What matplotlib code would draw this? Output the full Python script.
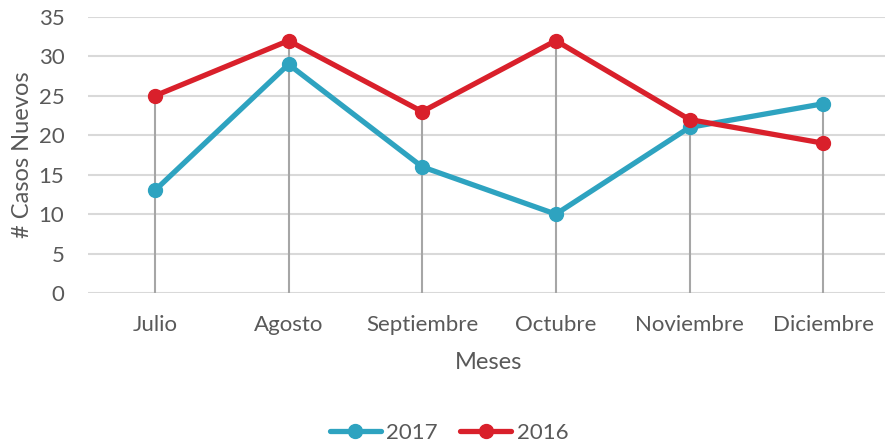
import matplotlib
matplotlib.use("Agg")
import matplotlib.pyplot as plt
import numpy as np

meses = ["Julio", "Agosto", "Septiembre", "Octubre", "Noviembre", "Diciembre"]
casos_2017 = [13, 29, 16, 10, 21, 24]
casos_2016 = [25, 32, 23, 32, 22, 19]
yticks = [0, 5, 10, 15, 20, 25, 30, 35]

plt.rcParams['font.family'] = ['Lato', 'DejaVu Sans']
txt = '#595959'

fig = plt.figure(figsize=(8.85, 4.44), dpi=100)
ax = fig.add_axes([88/885, 1-293/444, (890-88)/885, (293-17)/444])

x = np.arange(len(meses))
top = np.maximum(casos_2017, casos_2016)
ax.vlines(x, 0, top, color='#A6A6A6', lw=1.5, zorder=2)

c17 = '#2EA3C0'
c16 = '#D9202B'
ax.plot(x, casos_2017, color=c17, lw=3.8, marker='o', ms=10, label='2017', zorder=3, solid_capstyle='round')
ax.plot(x, casos_2016, color=c16, lw=3.8, marker='o', ms=10, label='2016', zorder=4, solid_capstyle='round')

ax.set_xlim(-0.5, 5.5)
ax.set_ylim(0, 35)
ax.set_yticks(yticks)
ax.set_xticks(x)
ax.set_xticklabels(meses)
ax.grid(axis='y', color='#D9D9D9', lw=1.5, zorder=0)
ax.set_axisbelow(True)
for s in ax.spines.values():
    s.set_visible(False)
ax.tick_params(length=0, labelsize=16, colors=txt, pad=17)
ax.tick_params(axis='x', pad=16)
ax.set_xlabel('Meses', fontsize=17, color=txt, labelpad=12)
ax.set_ylabel('# Casos Nuevos', fontsize=17, color=txt, labelpad=4)

leg = fig.legend(loc='center', bbox_to_anchor=(449/885, 1-433/444), ncol=2, frameon=False,
                 fontsize=16, labelcolor=txt, handlelength=2.3, columnspacing=1.0, handletextpad=0.25)

fig.savefig('out.png', dpi=100)
